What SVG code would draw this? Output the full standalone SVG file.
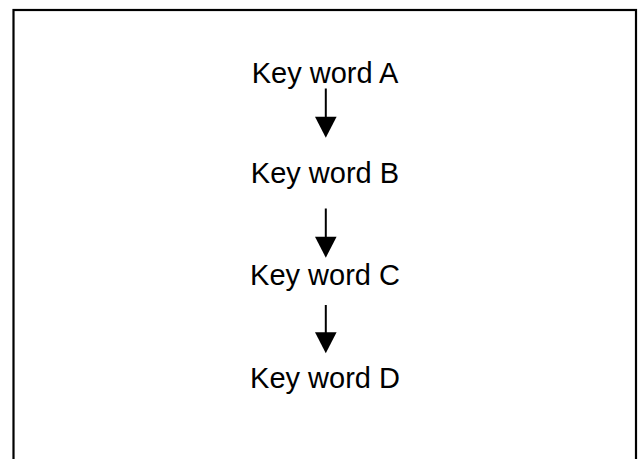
<svg xmlns="http://www.w3.org/2000/svg" width="641" height="459" viewBox="0 0 641 459">
<style>
.lbl{font-family:"Liberation Sans",Arial,sans-serif;font-size:29px;fill:#000;text-anchor:middle}
.ln{stroke:#000;stroke-width:2;fill:none}
.hd{fill:#000}
</style>
<rect width="641" height="459" fill="#fff"/>
<rect x="13.5" y="10" width="622.5" height="460" fill="none" stroke="#000" stroke-width="2.2"/>
<g id="nodeA"><text class="lbl" x="325" y="83">Key word A</text></g>
<g id="nodeB"><text class="lbl" x="325" y="183">Key word B</text></g>
<g id="nodeC"><text class="lbl" x="325" y="285">Key word C</text></g>
<g id="nodeD"><text class="lbl" x="325" y="388">Key word D</text></g>
<g id="connectors">
<line class="ln" x1="325.8" y1="88.5" x2="325.8" y2="118"/>
<polygon class="hd" points="315,116.7 336.6,116.7 325.8,137.7"/>
<line class="ln" x1="325.8" y1="208.5" x2="325.8" y2="238"/>
<polygon class="hd" points="315,236.7 336.6,236.7 325.8,257.7"/>
<line class="ln" x1="325.8" y1="305" x2="325.8" y2="334"/>
<polygon class="hd" points="315,332.3 336.6,332.3 325.8,353.3"/>
</g>
</svg>
